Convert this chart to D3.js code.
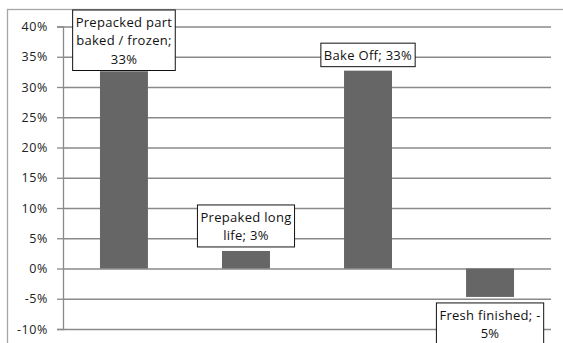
<!DOCTYPE html>
<html>
<head>
<meta charset="utf-8">
<script src="https://cdn.jsdelivr.net/npm/d3@7"></script>
<style>
  html, body { margin: 0; padding: 0; background: #fff; }
  svg { display: block; }
  text { font-family: "Open Sans", "Liberation Sans", sans-serif; }
</style>
</head>
<body>
<svg id="chart" width="563" height="343"></svg>
<script>
// Product categories and their share change
const categories = ["Prepacked part baked / frozen", "Prepaked long life", "Bake Off", "Fresh finished"];
const values = [0.326, 0.029, 0.327, -0.047];
const tickValues = [-0.10, -0.05, 0, 0.05, 0.10, 0.15, 0.20, 0.25, 0.30, 0.35, 0.40];

const svg = d3.select("#chart");
const plot = { left: 63, right: 551, top: 26.5, bottom: 329 };

// Percent format with a plain hyphen for negatives
const locale = d3.formatLocale({
  decimal: ".", thousands: ",", grouping: [3], currency: ["", ""], minus: "-"
});
const pct = locale.format(".0%");

const x = d3.scaleBand()
  .domain(categories)
  .range([plot.left, plot.right])
  .paddingInner(0.607)
  .paddingOuter(0.303);

const y = d3.scaleLinear()
  .domain([-0.10, 0.40])
  .range([plot.bottom, plot.top]);

// Chart area frame
svg.append("rect")
  .attr("x", 7.5).attr("y", 9.5)
  .attr("width", 620).attr("height", 400)
  .attr("fill", "#fff")
  .attr("stroke", "#a6a6a6")
  .attr("stroke-width", 1.3);

// Horizontal gridlines
svg.append("g")
  .attr("transform", `translate(${plot.left},0)`)
  .call(d3.axisLeft(y).tickValues(tickValues).tickSize(-(plot.right - plot.left)).tickFormat(""))
  .call(g => g.select(".domain").remove())
  .call(g => g.selectAll("line").attr("stroke", "#8a8a8a").attr("stroke-width", 1.3));

// Y axis with percent labels
svg.append("g")
  .attr("transform", `translate(${plot.left},0)`)
  .call(d3.axisLeft(y).tickValues(tickValues).tickSize(6).tickPadding(9).tickFormat(pct))
  .call(g => g.select(".domain").attr("stroke", "#8a8a8a").attr("stroke-width", 1.3))
  .call(g => g.selectAll(".tick line").attr("stroke", "#8a8a8a").attr("stroke-width", 1.3))
  .call(g => g.selectAll(".tick text")
    .attr("fill", "#222")
    .style("font-size", "12.5px")
    .style("letter-spacing", "0.6px"));

// Bars
svg.append("g")
  .selectAll("rect")
  .data(categories)
  .join("rect")
  .attr("x", d => x(d))
  .attr("width", x.bandwidth())
  .attr("y", (d, i) => Math.min(y(values[i]), y(0)))
  .attr("height", (d, i) => Math.abs(y(values[i]) - y(0)))
  .attr("fill", "#666666");

// Data labels: "category; value", wrapped into boxes
const fontSize = 13;
const lineH = 18.5;
const maxW = 104;
const padX = 3, padY = 3;

const measurer = svg.append("text")
  .style("font-size", fontSize + "px")
  .style("letter-spacing", "0.3px")
  .attr("visibility", "hidden");
function textWidth(s) {
  measurer.text(s);
  return measurer.node().getComputedTextLength();
}

// Greedy wrap, allowing breaks after spaces and hyphens
function wrap(s) {
  const pieces = s.split(/(?<=\s)|(?<=-)/);
  const lines = [];
  let cur = "";
  pieces.forEach(p => {
    const trial = cur + p;
    if (cur && textWidth(trial.trimEnd()) > maxW) {
      lines.push(cur.trimEnd());
      cur = p;
    } else {
      cur = trial;
    }
  });
  if (cur) lines.push(cur.trimEnd());
  return lines;
}

const labels = svg.append("g");
categories.forEach((c, i) => {
  const v = values[i];
  const lines = wrap(`${c}; ${pct(v)}`);
  const tw = d3.max(lines, l => textWidth(l));
  const bw = tw + padX * 2;
  const bh = lines.length * lineH + padY * 2 - 1;
  const cx = x(c) + x.bandwidth() / 2;
  let top;
  if (v >= 0) {
    top = y(v) - 4 - bh;
    if (top < 10) top = 10;
  } else {
    top = y(v) + 6;
  }
  const g = labels.append("g");
  g.append("rect")
    .attr("x", cx - bw / 2).attr("y", top)
    .attr("width", bw).attr("height", bh)
    .attr("fill", "#fff")
    .attr("stroke", "#111")
    .attr("stroke-width", 1);
  g.selectAll("text")
    .data(lines)
    .join("text")
    .attr("x", cx)
    .attr("y", (l, k) => top + padY + lineH * k + lineH / 2)
    .attr("dy", "0.35em")
    .attr("text-anchor", "middle")
    .attr("fill", "#111")
    .style("font-size", fontSize + "px")
    .style("letter-spacing", "0.3px")
    .text(l => l);
});
measurer.remove();
</script>
</body>
</html>
